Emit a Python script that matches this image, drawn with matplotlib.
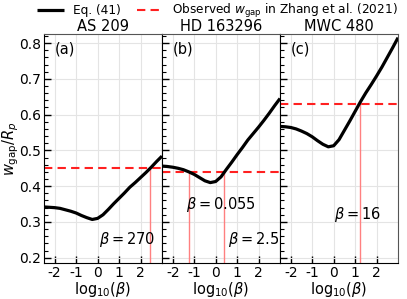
import numpy as np
import matplotlib
matplotlib.use("Agg")
import matplotlib.pyplot as plt
from matplotlib.ticker import MultipleLocator

plt.rcParams['axes.unicode_minus'] = False
plt.rcParams['mathtext.fontset'] = 'dejavusans'

log_beta = [-2.5, -2.25, -2.0, -1.75, -1.5, -1.25, -1.0, -0.75, -0.5, -0.25, 0.0,
            0.25, 0.5, 0.75, 1.0, 1.25, 1.5, 1.75, 2.0, 2.25, 2.5, 2.75, 3.0]

w_as209 = [0.342, 0.341, 0.340, 0.338, 0.334, 0.330, 0.325, 0.318, 0.312, 0.307, 0.310,
           0.320, 0.335, 0.351, 0.366, 0.381, 0.397, 0.410, 0.424, 0.438, 0.453, 0.469, 0.484]
w_hd163296 = [0.456, 0.455, 0.453, 0.450, 0.446, 0.440, 0.433, 0.424, 0.415, 0.410, 0.413,
              0.426, 0.447, 0.467, 0.488, 0.508, 0.529, 0.547, 0.565, 0.584, 0.604, 0.625, 0.645]
w_mwc480 = [0.567, 0.566, 0.564, 0.560, 0.554, 0.547, 0.538, 0.527, 0.517, 0.510, 0.513,
            0.530, 0.556, 0.582, 0.609, 0.636, 0.661, 0.684, 0.708, 0.733, 0.760, 0.787, 0.815]

names = ["AS 209", "HD 163296", "MWC 480"]
panel_labels = ["(a)", "(b)", "(c)"]
w_obs = [0.45, 0.44, 0.63]
beta_cross = [[270], [0.055, 2.5], [16]]
beta_text = [[r"$\beta=270$"], [r"$\beta=0.055$", r"$\beta=2.5$"], [r"$\beta=16$"]]
text_pos = [[(0.05, 0.25)], [(-1.4, 0.348), (0.56, 0.25)], [(0.0, 0.322)]]

curves = [w_as209, w_hd163296, w_mwc480]

fig = plt.figure(figsize=(4.07, 2.99), dpi=100)
left, right, bottom, top = 0.108, 0.978, 0.12, 0.886
W = (right - left) / 3
axes = []
for i in range(3):
    ax = fig.add_axes([left + i * W, bottom, W, top - bottom], sharey=axes[0] if axes else None)
    axes.append(ax)
    ax.plot(log_beta, curves[i], color='black', lw=2.3, label='Eq. (41)', zorder=3,
            solid_capstyle='butt')
    ax.axhline(w_obs[i], color='#ff2020', ls='--', lw=1.5, dashes=(4, 2.5),
               label=r'Observed $w_{\rm gap}$ in Zhang et al. (2021)', zorder=2)
    ymin = 0.185
    for b in beta_cross[i]:
        ax.plot([np.log10(b), np.log10(b)], [ymin, w_obs[i]], color='#ff8080', lw=1.0, zorder=1)
    for t, (tx, ty) in zip(beta_text[i], text_pos[i]):
        ax.text(tx, ty, t, fontsize=10.5, va='center', ha='left')
    ax.text(-2.0, 0.782, panel_labels[i], fontsize=10.5, va='center')
    ax.set_xlim(-2.5, 3.0)
    ax.set_ylim(0.185, 0.825)
    ax.set_xticks([-2, -1, 0, 1, 2])
    ax.set_xticklabels(['-2', '-1', '0', '1', '2'])
    ax.yaxis.set_major_locator(MultipleLocator(0.1))
    ax.yaxis.set_minor_locator(MultipleLocator(0.02))
    ax.tick_params(axis='both', which='major', direction='in', length=5, width=1,
                   labelsize=10, pad=2)
    ax.tick_params(axis='y', which='minor', direction='in', length=3, width=0.8)
    ax.grid(True, color='#e4e4e4', lw=0.8)
    ax.set_axisbelow(True)
    ax.set_xlabel(r'log$_{10}(\beta)$', fontsize=10.5, labelpad=0)
    ax.set_title(names[i], fontsize=10.5, pad=1.5)
    for s in ['top', 'right']:
        ax.spines[s].set_color('#555555')
    if i > 0:
        ax.tick_params(axis='y', labelleft=False)

axes[0].set_ylabel(r'$w_{\rm gap}/R_p$', fontsize=10.5, labelpad=-1)
h, l = axes[0].get_legend_handles_labels()
fig.legend(h, l, loc='center', bbox_to_anchor=(0.535, 0.963), ncol=2, frameon=False,
           fontsize=8.7, handlelength=2.2, columnspacing=1.4, handletextpad=0.7,
           borderpad=0, borderaxespad=0)
fig.savefig('out.png', dpi=100)
